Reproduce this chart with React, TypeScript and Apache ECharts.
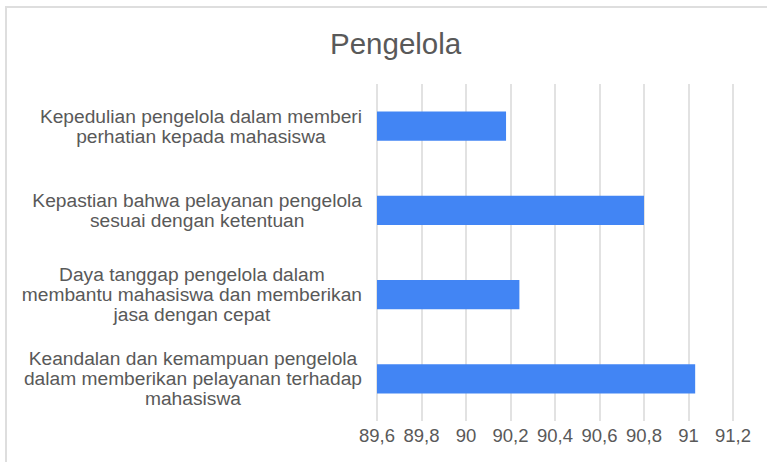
import React, { useEffect, useRef } from "react";
import * as echarts from "echarts";

const title = "Pengelola";
const categories = [
  "Kepedulian pengelola dalam memberi\nperhatian kepada mahasiswa",
  "Kepastian bahwa pelayanan pengelola\nsesuai dengan ketentuan",
  "Daya tanggap pengelola dalam\nmembantu mahasiswa dan memberikan\njasa dengan cepat",
  "Keandalan dan kemampuan pengelola\ndalam memberikan pelayanan terhadap\nmahasiswa",
];
const values = [90.18, 90.8, 90.24, 91.03];
const axisMin = 89.6;
const axisMax = 91.2;
const axisStep = 0.2;

export default function App() {
  const ref = useRef<HTMLDivElement>(null);
  useEffect(() => {
    document.body.style.margin = "0";
    const chart = echarts.init(ref.current!, null, { renderer: "svg" });
    const font = "'Liberation Sans', Arial, sans-serif";
    chart.setOption({
      animation: false,
      backgroundColor: "#ffffff",
      graphic: [
        {
          type: "rect",
          shape: { x: 6, y: 7, width: 800, height: 500 },
          style: { fill: "none", stroke: "#dedede", lineWidth: 2 },
          silent: true,
        },
      ],
      title: {
        text: title,
        left: 325,
        top: 23,
        textStyle: { fontFamily: font, fontSize: 29.5, fontWeight: "normal", color: "#595959" },
      },
      grid: { left: 377, right: 34, top: 84, bottom: 41, containLabel: false },
      xAxis: {
        type: "value",
        min: axisMin,
        max: axisMax,
        interval: axisStep,
        axisLine: { show: false },
        axisTick: { show: false },
        splitLine: { show: true, lineStyle: { color: "#d9d9d9", width: 1.5 } },
        axisLabel: {
          margin: 5,
          fontFamily: font,
          fontSize: 18.5,
          color: "#595959",
          formatter: (v: number) => String(Number(v.toFixed(1))).replace(".", ","),
        },
      },
      yAxis: {
        type: "category",
        inverse: true,
        data: categories,
        axisLine: { show: false },
        axisTick: { show: false },
        splitLine: { show: false },
        axisLabel: {
          margin: 15,
          fontFamily: font,
          fontSize: 19.2,
          color: "#595959",
          lineHeight: 20,
          formatter: (v: string) =>
            v
              .split("\n")
              .map((l) => `{c|${l}}`)
              .join("\n"),
          rich: {
            c: { align: "center", fontFamily: font, fontSize: 19.2, color: "#595959", lineHeight: 20 },
          },
        },
      },
      series: [
        {
          type: "bar",
          data: values,
          barWidth: "35%",
          itemStyle: { color: "#4285f4" },
        },
      ],
    });
    return () => chart.dispose();
  }, []);
  return <div ref={ref} style={{ width: 767, height: 462 }} />;
}
